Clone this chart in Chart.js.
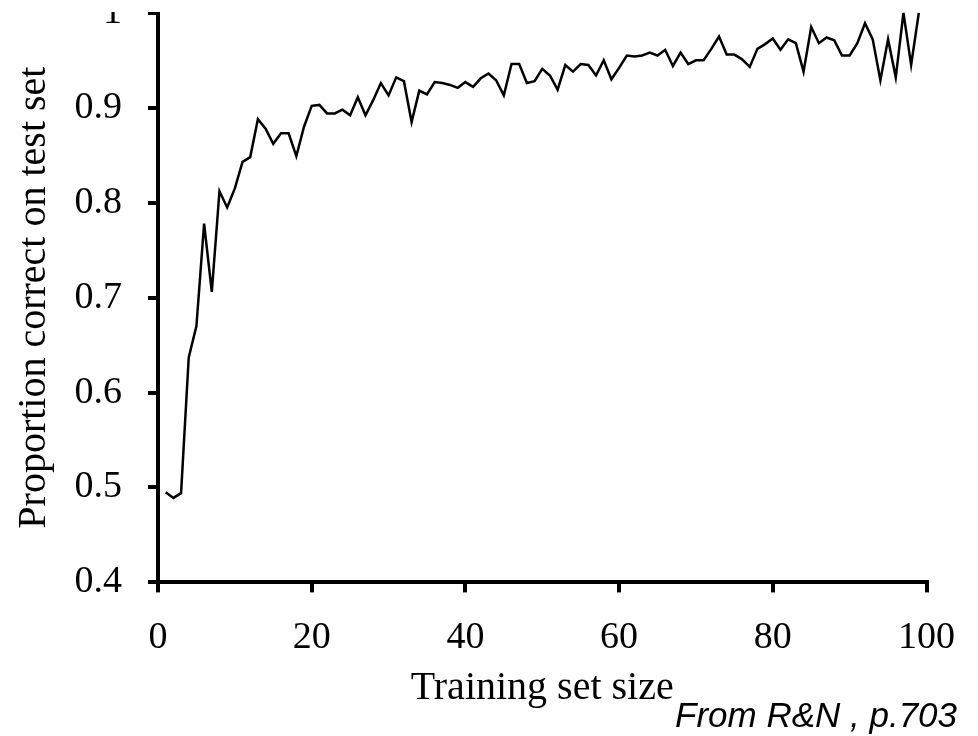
<!DOCTYPE html>
<html>
<head>
<meta charset="utf-8">
<script src="https://cdn.jsdelivr.net/npm/chart.js@4"></script>
<style>
  html, body { margin: 0; padding: 0; background: #fff; }
  body { width: 978px; height: 736px; position: relative; overflow: hidden; }
  #wrap { position: absolute; left: 0; top: 12px; width: 978px; height: 724px; overflow: hidden; }
  #wrap canvas { position: absolute; left: 0; top: -48px; }
  #note { position: absolute; left: 675px; top: 697px; font: italic 35px/1 "Liberation Sans", Arial, sans-serif; color: #000; white-space: nowrap; }
</style>
</head>
<body>
<div id="wrap"><canvas id="curveChart" width="978" height="772"></canvas></div>
<div id="note">From R&amp;N , p.703</div>
<script>
// Learning curve: training set size vs. proportion correct on test set
const sizes = [];
for (let i = 1; i <= 99; i++) sizes.push(i);

const accuracy = [
  0.495, 0.489, 0.494, 0.637, 0.670, 0.778, 0.706, 0.812, 0.795, 0.815,
  0.843, 0.848, 0.888, 0.878, 0.862, 0.873, 0.873, 0.849, 0.880, 0.902,
  0.903, 0.894, 0.894, 0.898, 0.892, 0.911, 0.892, 0.908, 0.926, 0.913,
  0.932, 0.928, 0.885, 0.918, 0.914, 0.927, 0.926, 0.924, 0.921, 0.927,
  0.922, 0.931, 0.936, 0.929, 0.913, 0.946, 0.946, 0.926, 0.928, 0.941,
  0.934, 0.919, 0.945, 0.938, 0.946, 0.945, 0.934, 0.950, 0.930, 0.942,
  0.955, 0.954, 0.955, 0.958, 0.955, 0.961, 0.944, 0.958, 0.946, 0.950,
  0.950, 0.962, 0.975, 0.956, 0.956, 0.951, 0.943, 0.962, 0.967, 0.973,
  0.961, 0.972, 0.968, 0.938, 0.985, 0.968, 0.974, 0.971, 0.955, 0.955,
  0.968, 0.989, 0.972, 0.929, 0.972, 0.932, 1.000, 0.945, 1.000
];

const xTickLabels = ['0', '20', '40', '60', '80', '100'];
const yTickLabels = ['0.4', '0.5', '0.6', '0.7', '0.8', '0.9', '1'];

const serifFamily = '"Liberation Serif", "Times New Roman", serif';
const tickFont = { family: serifFamily, size: 38, lineHeight: 1.2 };
const titleFont = { family: serifFamily, size: 40, lineHeight: 1 };

const ctx = document.getElementById('curveChart').getContext('2d');
const curveChart = new Chart(ctx, {
    type: 'line',
    data: {
        datasets: [{
            data: sizes.map((s, i) => ({ x: s, y: accuracy[i] })),
            borderColor: '#000',
            borderWidth: 2.5,
            pointRadius: 0,
            tension: 0,
            fill: false
        }]
    },
    options: {
        responsive: false,
        animation: false,
        layout: { padding: { left: 0, right: 12, top: 0, bottom: 28 } },
        plugins: {
            legend: { display: false },
            tooltip: { enabled: false }
        },
        scales: {
            x: {
                type: 'linear',
                min: 0,
                max: 100,
                border: { display: true, color: '#000', width: 4 },
                grid: { drawOnChartArea: false, drawTicks: true, tickLength: 10, lineWidth: 4, color: '#000' },
                ticks: {
                    stepSize: 20,
                    color: '#000',
                    font: tickFont,
                    padding: 23,
                    maxRotation: 0,
                    callback: (v, i) => xTickLabels[i]
                },
                title: {
                    display: true,
                    text: 'Training set size',
                    color: '#000',
                    font: titleFont,
                    padding: { top: -16, bottom: 0 }
                }
            },
            y: {
                min: 0.4,
                max: 1.0,
                border: { display: true, color: '#000', width: 4 },
                grid: { drawOnChartArea: false, drawTicks: true, tickLength: 10, lineWidth: 4, color: '#000' },
                ticks: {
                    stepSize: 0.1,
                    color: '#000',
                    font: tickFont,
                    padding: 26,
                    callback: (v, i) => yTickLabels[i]
                },
                title: {
                    display: true,
                    text: 'Proportion correct on test set',
                    color: '#000',
                    font: titleFont,
                    padding: { top: 14, bottom: 0 }
                },
                afterFit: (scale) => { scale.width = 158; }
            }
        }
    }
});
</script>
</body>
</html>
